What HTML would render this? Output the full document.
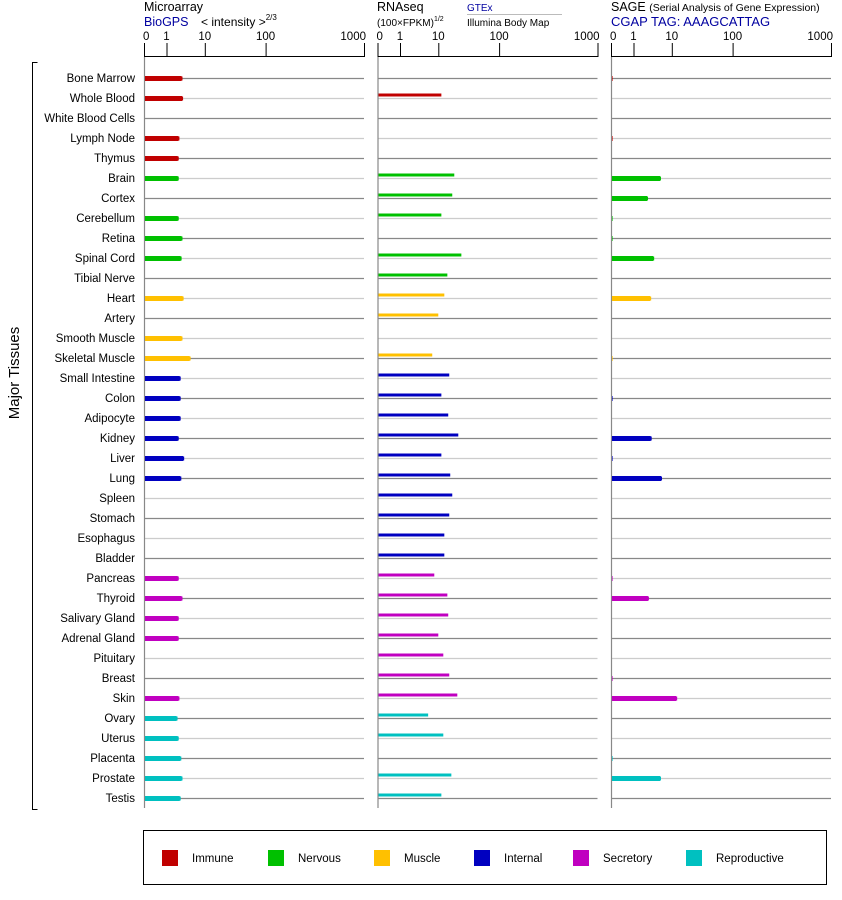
<!DOCTYPE html>
<html><head><meta charset="utf-8"><style>
body{margin:0;background:#fff;width:842px;height:900px;overflow:hidden;font-family:"Liberation Sans",sans-serif}
svg{display:block}
text{font-family:"Liberation Sans",sans-serif}
</style></head><body>
<svg id="chart" width="842" height="900" viewBox="0 0 842 900" xmlns="http://www.w3.org/2000/svg">
  <g>
    <text x="144" y="11" font-size="12.5">Microarray</text>
    <text x="144" y="26" font-size="12.5" fill="#0000a0">BioGPS</text>
    <text x="201" y="26" font-size="12">&lt; intensity &gt;<tspan font-size="8" dy="-6">2/3</tspan></text>
    <text x="377" y="11" font-size="12.5">RNAseq</text>
    <text x="377" y="26" font-size="10">(100×FPKM)<tspan font-size="7" dy="-5">1/2</tspan></text>
    <text x="467" y="11" font-size="10" fill="#0000a0">GTEx</text>
    <line x1="467" y1="14.5" x2="562" y2="14.5" stroke="#bbb" stroke-width="1"/>
    <text x="467" y="26" font-size="10">Illumina Body Map</text>
    <text x="611" y="11" font-size="12.5">SAGE <tspan font-size="10.5">(Serial Analysis of Gene Expression)</tspan></text>
    <text x="611" y="26" font-size="13" fill="#0000a0">CGAP TAG: AAAGCATTAG</text>
  </g>
  <g id="panels"></g>
  <g stroke="#000" stroke-width="1" fill="none">
    <path d="M37.5 62.5 H32.5 V809.5 H37.5"/>
  </g>
  <text transform="translate(19,373) rotate(-90)" text-anchor="middle" font-size="15">Major Tissues</text>
  <g>
    <rect x="143.5" y="830.5" width="683" height="54" fill="none" stroke="#000"/>
    <g id="legend-items"></g>
  </g>
</svg>
<script>
const tissues = ["Bone Marrow","Whole Blood","White Blood Cells","Lymph Node","Thymus","Brain","Cortex","Cerebellum","Retina","Spinal Cord","Tibial Nerve","Heart","Artery","Smooth Muscle","Skeletal Muscle","Small Intestine","Colon","Adipocyte","Kidney","Liver","Lung","Spleen","Stomach","Esophagus","Bladder","Pancreas","Thyroid","Salivary Gland","Adrenal Gland","Pituitary","Breast","Skin","Ovary","Uterus","Placenta","Prostate","Testis"];
const groups = [0,0,0,0,0,1,1,1,1,1,1,2,2,2,2,3,3,3,3,3,3,3,3,3,3,4,4,4,4,4,4,4,5,5,5,5,5];
const groupNames = ["Immune","Nervous","Muscle","Internal","Secretory","Reproductive"];
const groupColors = ["#c00000","#00c000","#ffc000","#0000c0","#c000c0","#00c0c0"];
const microarray = [2.9,3.0,null,2.4,2.3,2.3,null,2.3,2.9,2.75,null,3.1,null,2.9,4.6,2.6,2.6,2.6,2.3,3.2,2.7,null,null,null,null,2.3,2.9,2.3,2.3,null,null,2.4,2.13,2.3,2.7,2.9,2.6];
const rnaseq = [null,11.3,null,null,null,18.7,17.3,11.3,null,24.5,14.3,12.7,10,null,7.4,15.4,11.3,14.8,21.8,11.3,16.0,17.3,15.4,12.7,12.7,8.2,14.3,14.8,10,12.2,15.4,21,6.0,12.2,null,16.7,11.3];
const sage = [0.05,null,null,0.05,null,5.5,2.65,0.05,0.05,3.8,null,3.2,null,null,0.05,null,0.05,null,3.3,0.05,5.8,null,null,null,null,0.05,2.8,null,null,null,0.05,11.9,null,null,0.05,5.5,null];
const tickValues = [0,1,10,100,1000];
const tickLabels = ["0","1","10","100","1000"];

const NS = "http://www.w3.org/2000/svg";
const ROW0 = 78, ROWSTEP = 20;
function rowY(i){ return ROW0 + i*ROWSTEP; }
// axis: piecewise-linear over log10(1+v) knots
const knotLog = [0, Math.log10(2), Math.log10(11), Math.log10(101), Math.log10(1001)];
const knotPx = [0, 22.5, 60.8, 121.6, 220];
function scaleLen(v){
  const l = Math.log10(1+v);
  for(let k=1;k<knotLog.length;k++){
    if(l<=knotLog[k]){ return knotPx[k-1] + (l-knotLog[k-1])/(knotLog[k]-knotLog[k-1])*(knotPx[k]-knotPx[k-1]); }
  }
  return 220;
}
function mk(tag, attrs, parent){ const e=document.createElementNS(NS,tag); for(const k in attrs) e.setAttribute(k,attrs[k]); parent.appendChild(e); return e; }

const panelsG = document.getElementById('panels');
const panels = [
  {name:"microarray", x0:144, data:microarray, style:"thick"},
  {name:"rnaseq", x0:377.5, data:rnaseq, style:"thin"},
  {name:"sage", x0:611, data:sage, style:"thick"}
];
// tissue labels
tissues.forEach((t,i)=>{
  const tx = mk('text',{x:135,y:rowY(i)+4,'text-anchor':'end','font-size':'11.5',fill:'#000'},panelsG);
  
  
  tx.textContent = t;
});
panels.forEach(p=>{
  const g = mk('g',{},panelsG);
  
  
  // row lines
  tissues.forEach((t,i)=>{
    const ln = mk('line',{x1:p.x0,x2:p.x0+220,y1:rowY(i)+0.5,y2:rowY(i)+0.5,stroke:(i%2===0)?'#888':'#ccc','stroke-width':1.2},g);
    
    
  });
  // axis
  const ax = mk('line',{x1:p.x0,x2:p.x0+220,y1:56.5,y2:56.5,stroke:'#000','stroke-width':1},g);
  
  
  const vax = mk('line',{x1:p.x0+0.5,x2:p.x0+0.5,y1:57,y2:808,stroke:'#888','stroke-width':1.2},g);
  
  
  tickValues.forEach((v,k)=>{
    const tx = p.x0 + scaleLen(v);
    const tk = mk('line',{x1:tx+0.5,x2:tx+0.5,y1:43,y2:57,stroke:'#000','stroke-width':1},g);
    
    
    let anchor='middle', lx=tx;
    if(k===0){anchor='start'; lx=tx-1;}
    if(k===tickValues.length-1){anchor='end'; lx=tx+2;}
    const lb = mk('text',{x:lx,y:40,'text-anchor':anchor,'font-size':'11.5'},g);
    
    
    lb.textContent = tickLabels[k];
  });
  // bars
  p.data.forEach((v,i)=>{
    if(v===null) return;
    const len = Math.max(scaleLen(v), 1.5);
    const col = groupColors[groups[i]];
    const y = rowY(i);
    if(p.style==='thick'){
      const b = mk('rect',{x:p.x0+1,y:y-2,width:len-1,height:5,fill:col},g);
      
      
      if(len>4){
        const c = mk('rect',{x:p.x0+len-1,y:y-1.5,width:2,height:4,fill:col},g);
        
        
      }
    } else {
      const b = mk('rect',{x:p.x0+1,y:y-4.5,width:len-1,height:3,fill:col},g);
      
      
    }
  });
});
// legend
const legG = document.getElementById('legend-items');
const legSw = [162,268,374,474,573,686];
groupNames.forEach((n,k)=>{
  const r = mk('rect',{x:legSw[k],y:850,width:16,height:16,fill:groupColors[k]},legG);
  
  
  const t = mk('text',{x:legSw[k]+30,y:862,'font-size':'11.5'},legG);
  
  
  t.textContent = n;
});
</script>
</body></html>
